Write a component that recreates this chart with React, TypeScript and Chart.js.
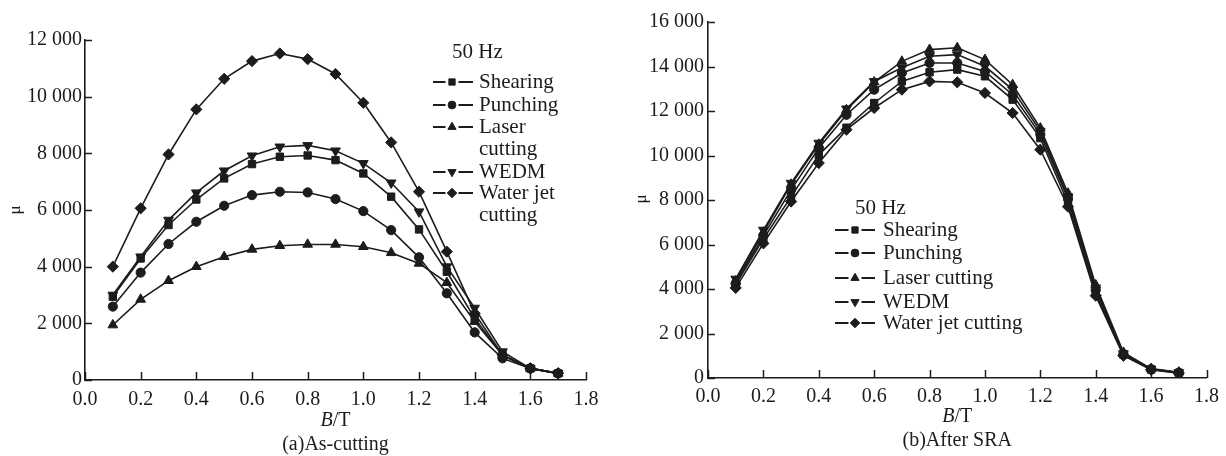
import React, { useEffect, useRef } from 'react';
import { Chart, registerables } from 'chart.js';
import { drawPoint } from 'chart.js/helpers';

Chart.register(...registerables);

// Magnetic flux density B (T)
const B_VALUES = [0.1, 0.2, 0.3, 0.4, 0.5, 0.6, 0.7, 0.8, 0.9, 1.0, 1.1, 1.2, 1.3, 1.4, 1.5, 1.6, 1.7];

const SERIES_NAMES = ['Shearing', 'Punching', 'Laser cutting', 'WEDM', 'Water jet cutting'];

// (a) As-cutting permeability
const AS_SHEARING = [2940, 4290, 5470, 6370, 7115, 7620, 7880, 7925, 7760, 7290, 6470, 5315, 3820, 2175, 880, 410, 235];
const AS_PUNCHING = [2590, 3790, 4800, 5585, 6150, 6525, 6645, 6620, 6385, 5960, 5290, 4330, 3060, 1680, 765, 410, 235];
const AS_LASER = [1940, 2845, 3505, 4000, 4350, 4610, 4740, 4785, 4785, 4705, 4490, 4115, 3435, 2060, 880, 410, 235];
const AS_WEDM = [3000, 4350, 5645, 6610, 7385, 7915, 8230, 8280, 8090, 7645, 6960, 5940, 4000, 2540, 1000, 410, 235];
const AS_WATERJET = [4000, 6060, 7960, 9550, 10630, 11255, 11525, 11325, 10800, 9785, 8385, 6645, 4530, 2350, 880, 410, 235];

// (b) After SRA permeability
const SRA_SHEARING = [4200, 6250, 8150, 10030, 11250, 12360, 13330, 13740, 13860, 13560, 12510, 10780, 7855, 3800, 1050, 380, 230];
const SRA_PUNCHING = [4250, 6400, 8455, 10330, 11830, 12960, 13710, 14160, 14160, 13780, 12730, 10950, 8050, 3950, 1080, 400, 240];
const SRA_LASER = [4350, 6550, 8700, 10500, 12050, 13300, 14230, 14760, 14840, 14310, 13180, 11230, 8300, 4175, 1150, 420, 260];
const SRA_WEDM = [4450, 6650, 8760, 10560, 12100, 13330, 13940, 14460, 14535, 14010, 12960, 11100, 8150, 4050, 1100, 400, 250];
const SRA_WATERJET = [4050, 6050, 7930, 9660, 11160, 12135, 12960, 13330, 13290, 12810, 11910, 10260, 7700, 3700, 1000, 370, 220];

// Legend text lines for the narrow legend of panel (a)
const LEGEND_A_LINES = [['Shearing'], ['Punching'], ['Laser', 'cutting'], ['WEDM'], ['Water jet', 'cutting']];
const LEGEND_B_LINES = SERIES_NAMES.map((n) => [n]);

const LEGEND_TITLE = '50 Hz';
const X_TITLE_ITALIC = 'B';
const X_TITLE_REST = '/T';
const Y_TITLE = 'μ';
const CAPTION_A = '(a)As-cutting';
const CAPTION_B = '(b)After SRA';

const INK = '#1c1c1c';
const FONT_FAMILY = '"Liberation Serif", "Times New Roman", serif';

const MARKERS = [
  { pointStyle: 'rect', rotation: 0, radius: 5.2 },
  { pointStyle: 'circle', rotation: 0, radius: 4.6 },
  { pointStyle: 'triangle', rotation: 0, radius: 5.6 },
  { pointStyle: 'triangle', rotation: 180, radius: 5.6 },
  { pointStyle: 'rectRot', rotation: 0, radius: 5.6 },
];

type LegendLayout = {
  titleX: number;
  titleY: number;
  lineX0: number;
  lineX1: number;
  markerX: number;
  textX: number;
  rows: number[];
  lineGap: number;
  lines: string[][];
};

type PanelLayout = {
  width: number;
  padRight: number;
  padTop: number;
  yAxisWidth: number;
  xAxisHeight: number;
  xTickPad: number;
  yTickPad: number;
  yMax: number;
  yTitleX: number;
  yTitleY: number;
  xTitleY: number;
  captionY: number;
  caption: string;
  legend: LegendLayout;
};

const fmtThousands = (v: number) => String(Math.round(v)).replace(/\B(?=(\d{3})+(?!\d))/g, ' ');

function decorPlugin(p: PanelLayout) {
  return {
    id: 'decor',
    afterDraw(chart: any) {
      const ctx: CanvasRenderingContext2D = chart.ctx;
      const xs = chart.scales.x;
      const ys = chart.scales.y;
      const area = chart.chartArea;
      ctx.save();
      ctx.strokeStyle = INK;
      ctx.fillStyle = INK;
      ctx.lineWidth = 1.5;

      // inward tick marks
      xs.ticks.forEach((t: any) => {
        const px = Math.round(xs.getPixelForValue(t.value)) + 0.5;
        ctx.beginPath();
        ctx.moveTo(px, area.bottom);
        ctx.lineTo(px, area.bottom - 8);
        ctx.stroke();
      });
      ys.ticks.forEach((t: any) => {
        const py = Math.round(ys.getPixelForValue(t.value)) + 0.5;
        ctx.beginPath();
        ctx.moveTo(area.left, py);
        ctx.lineTo(area.left + 7, py);
        ctx.stroke();
      });

      // x axis title: italic B followed by /T
      const cx = (area.left + area.right) / 2;
      ctx.textBaseline = 'middle';
      ctx.textAlign = 'left';
      const italicFont = `italic 20px ${FONT_FAMILY}`;
      const normalFont = `20px ${FONT_FAMILY}`;
      const legendFont = `21px ${FONT_FAMILY}`;
      ctx.font = italicFont;
      const wB = ctx.measureText(X_TITLE_ITALIC).width;
      ctx.font = normalFont;
      const wT = ctx.measureText(X_TITLE_REST).width;
      const startX = cx - (wB + wT) / 2;
      ctx.font = italicFont;
      ctx.fillText(X_TITLE_ITALIC, startX, p.xTitleY);
      ctx.font = normalFont;
      ctx.fillText(X_TITLE_REST, startX + wB, p.xTitleY);

      // caption
      ctx.textAlign = 'center';
      ctx.fillText(p.caption, cx, p.captionY);

      // y axis title (rotated)
      ctx.save();
      ctx.translate(p.yTitleX, p.yTitleY);
      ctx.rotate(-Math.PI / 2);
      ctx.font = `17px ${FONT_FAMILY}`;
      ctx.textAlign = 'center';
      ctx.fillText(Y_TITLE, 0, 0);
      ctx.restore();

      // legend: dash, marker, dash, then label text
      const lg = p.legend;
      ctx.font = legendFont;
      ctx.textAlign = 'left';
      ctx.fillText(LEGEND_TITLE, lg.titleX, lg.titleY);
      chart.data.datasets.forEach((ds: any, i: number) => {
        const ry = lg.rows[i];
        const gap = 6.5;
        ctx.lineWidth = 1.8;
        ctx.strokeStyle = INK;
        ctx.beginPath();
        ctx.moveTo(lg.lineX0, ry);
        ctx.lineTo(lg.markerX - gap, ry);
        ctx.moveTo(lg.markerX + gap, ry);
        ctx.lineTo(lg.lineX1, ry);
        ctx.stroke();
        ctx.fillStyle = INK;
        ctx.lineWidth = 1;
        drawPoint(
          ctx,
          { pointStyle: ds.pointStyle, rotation: ds.pointRotation, radius: ds.pointRadius * 0.85, borderWidth: 1 },
          lg.markerX,
          ry
        );
        ctx.fillStyle = INK;
        lg.lines[i].forEach((txt, k) => {
          ctx.fillText(txt, lg.textX, ry + k * lg.lineGap);
        });
      });
      ctx.restore();
    },
  };
}

function buildChart(canvas: HTMLCanvasElement, p: PanelLayout, series: number[][]) {
  const datasets = series.map((vals, i) => ({
    label: SERIES_NAMES[i],
    data: B_VALUES.map((b, k) => ({ x: b, y: vals[k] })),
    borderColor: INK,
    backgroundColor: INK,
    borderWidth: 1.6,
    pointStyle: MARKERS[i].pointStyle,
    pointRotation: MARKERS[i].rotation,
    pointRadius: MARKERS[i].radius,
    pointBorderWidth: 1,
    pointBackgroundColor: INK,
    pointBorderColor: INK,
    tension: 0,
    fill: false,
  }));

  const tickFont = { family: FONT_FAMILY, size: 20 };

  return new Chart(canvas, {
    type: 'line',
    data: { datasets },
    plugins: [decorPlugin(p)],
    options: {
      animation: false,
      responsive: false,
      devicePixelRatio: 1,
      layout: { padding: { left: 0, right: p.padRight, top: p.padTop, bottom: 0 } },
      plugins: { legend: { display: false }, tooltip: { enabled: false }, title: { display: false } },
      scales: {
        x: {
          type: 'linear',
          min: 0,
          max: 1.8,
          ticks: {
            stepSize: 0.2,
            color: INK,
            font: tickFont,
            padding: p.xTickPad,
            maxRotation: 0,
            autoSkip: false,
            callback: (v: any) => Number(v).toFixed(1),
          },
          grid: { display: false, drawTicks: false },
          border: { display: true, color: INK, width: 1.6 },
          afterFit: (s: any) => {
            s.height = p.xAxisHeight;
          },
        },
        y: {
          type: 'linear',
          min: 0,
          max: p.yMax,
          ticks: {
            stepSize: 2000,
            color: INK,
            font: tickFont,
            padding: p.yTickPad,
            callback: (v: any) => fmtThousands(Number(v)),
          },
          grid: { display: false, drawTicks: false },
          border: { display: true, color: INK, width: 1.6 },
          afterFit: (s: any) => {
            s.width = p.yAxisWidth;
          },
        },
      },
    },
  } as any);
}

const PANEL_A: PanelLayout = {
  width: 613,
  padRight: 27,
  padTop: 40,
  yAxisWidth: 85,
  xAxisHeight: 76,
  xTickPad: 8,
  yTickPad: 3,
  yMax: 12000,
  yTitleX: 16,
  yTitleY: 210,
  xTitleY: 421,
  captionY: 445,
  caption: CAPTION_A,
  legend: {
    titleX: 452,
    titleY: 52,
    lineX0: 433,
    lineX1: 473,
    markerX: 452,
    textX: 479,
    rows: [82, 105, 127, 172, 193],
    lineGap: 22,
    lines: LEGEND_A_LINES,
  },
};

const PANEL_B: PanelLayout = {
  width: 613,
  padRight: 18,
  padTop: 22,
  yAxisWidth: 95,
  xAxisHeight: 78,
  xTickPad: 7,
  yTickPad: 4,
  yMax: 16000,
  yTitleX: 29,
  yTitleY: 199,
  xTitleY: 417,
  captionY: 441,
  caption: CAPTION_B,
  legend: {
    titleX: 242,
    titleY: 208,
    lineX0: 222,
    lineX1: 262,
    markerX: 242,
    textX: 270,
    rows: [230, 253, 278, 302, 323],
    lineGap: 22,
    lines: LEGEND_B_LINES,
  },
};

function Panel({ layout, series, left }: { layout: PanelLayout; series: number[][]; left: number }) {
  const ref = useRef<HTMLCanvasElement>(null);
  useEffect(() => {
    if (!ref.current) return;
    const chart = buildChart(ref.current, layout, series);
    return () => chart.destroy();
  }, [layout, series]);
  return (
    <div style={{ position: 'absolute', left, top: 0, width: layout.width, height: 456 }}>
      <canvas ref={ref} width={layout.width} height={456} style={{ width: layout.width, height: 456, display: 'block' }} />
    </div>
  );
}

const SERIES_A = [AS_SHEARING, AS_PUNCHING, AS_LASER, AS_WEDM, AS_WATERJET];
const SERIES_B = [SRA_SHEARING, SRA_PUNCHING, SRA_LASER, SRA_WEDM, SRA_WATERJET];

export default function App() {
  return (
    <div style={{ position: 'fixed', left: 0, top: 0, width: 1226, height: 456, background: '#ffffff', overflow: 'hidden' }}>
      <Panel layout={PANEL_A} series={SERIES_A} left={0} />
      <Panel layout={PANEL_B} series={SERIES_B} left={613} />
    </div>
  );
}
